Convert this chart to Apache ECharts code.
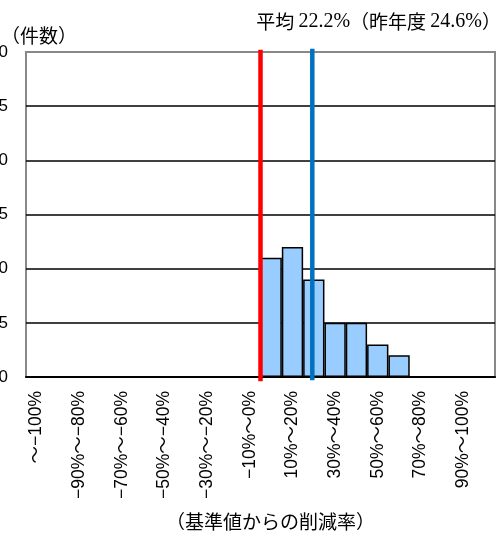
<!DOCTYPE html>
<html><head><meta charset="utf-8">
<script src="https://cdn.jsdelivr.net/npm/echarts@6/dist/echarts.min.js"></script>
<style>html,body{margin:0;padding:0;background:#fff}#c{width:497px;height:537px}</style>
</head><body><div id="c"></div>
<script>
const categories = ["～−100%","−100%～−90%","−90%～−80%","−80%～−70%","−70%～−60%","−60%～−50%","−50%～−40%","−40%～−30%","−30%～−20%","−20%～−10%","−10%～0%","0%～10%","10%～20%","20%～30%","30%～40%","40%～50%","50%～60%","60%～70%","70%～80%","80%～90%","90%～100%","100%～"];
const counts = [0,0,0,0,0,0,0,0,0,0,0,11,12,9,5,5,3,2,0,0,0,0];
const yTicks = [0,5,10,15,20,25,30];
const redLineAt = 0;     // percent
const blueLineAt = 24.3; // percent (as drawn)
const titleParts = ["平均 ","22.2%","（昨年度 ","24.6%","）"];

const chart = echarts.init(document.getElementById('c'));
const cjk = '"Noto Sans CJK JP","Liberation Sans",sans-serif';
chart.setOption({
  animation:false,
  backgroundColor:'#fff',
  title:[{
    right:-9, top:7,
    text:'{a|'+titleParts[0]+'}{b|'+titleParts[1]+'}{a|'+titleParts[2]+'}{b|'+titleParts[3]+'}{a|'+titleParts[4]+'}',
    textStyle:{rich:{
      a:{fontFamily:cjk,fontSize:19,fontWeight:'normal',color:'#000'},
      b:{fontFamily:'"Liberation Serif","DejaVu Serif",serif',fontSize:20,fontWeight:'normal',color:'#000'}
    }}
  },{
    left:-4, top:21, text:'（件数）',
    textStyle:{fontFamily:cjk,fontSize:19,fontWeight:'normal',color:'#000'}
  }],
  grid:{left:26,right:2,top:52,bottom:160,outerBoundsMode:'none',containLabel:false,show:true,borderColor:'#888',borderWidth:2,backgroundColor:'transparent'},
  xAxis:[{
    type:'category', data:categories,
    name:'（基準値からの削減率）', nameLocation:'middle', nameGap:135,
    nameTextStyle:{fontFamily:cjk,fontSize:19,color:'#000',padding:[0,0,0,20]},
    axisLine:{lineStyle:{color:'#000',width:2}},
    axisTick:{inside:true,length:5,alignWithLabel:false,lineStyle:{color:'#000',width:1.5}},
    axisLabel:{interval:1,rotate:90,fontSize:17.5,color:'#000',margin:14,fontFamily:'"Liberation Sans","Noto Sans CJK JP",sans-serif'},
    splitLine:{show:false}
  },{
    type:'value', min:-110, max:110, show:false
  }],
  yAxis:{
    type:'value', min:yTicks[0], max:yTicks[yTicks.length-1], interval:5,
    axisLine:{show:true,lineStyle:{color:'#000',width:2}},
    axisTick:{show:false},
    axisLabel:{fontSize:17,color:'#000',margin:18,fontFamily:'"Liberation Sans",sans-serif'},
    splitLine:{lineStyle:{color:['#000','#000','#000','#000','#000','#000','#888'],width:1.5}}
  },
  series:[{
    type:'bar', data:counts, barCategoryGap:'0%', xAxisIndex:0,
    itemStyle:{color:'#99CCFF',borderColor:'#000',borderWidth:1.5}
  },{
    type:'line', xAxisIndex:1, symbol:'none', clip:false, z:5,
    data:[[redLineAt,-0.4],[redLineAt,30.2]],
    lineStyle:{color:'#FF0000',width:4.5}
  },{
    type:'line', xAxisIndex:1, symbol:'none', clip:false, z:5,
    data:[[blueLineAt,-0.3],[blueLineAt,30.3]],
    lineStyle:{color:'#0070C0',width:4.5}
  }]
});
</script></body></html>
